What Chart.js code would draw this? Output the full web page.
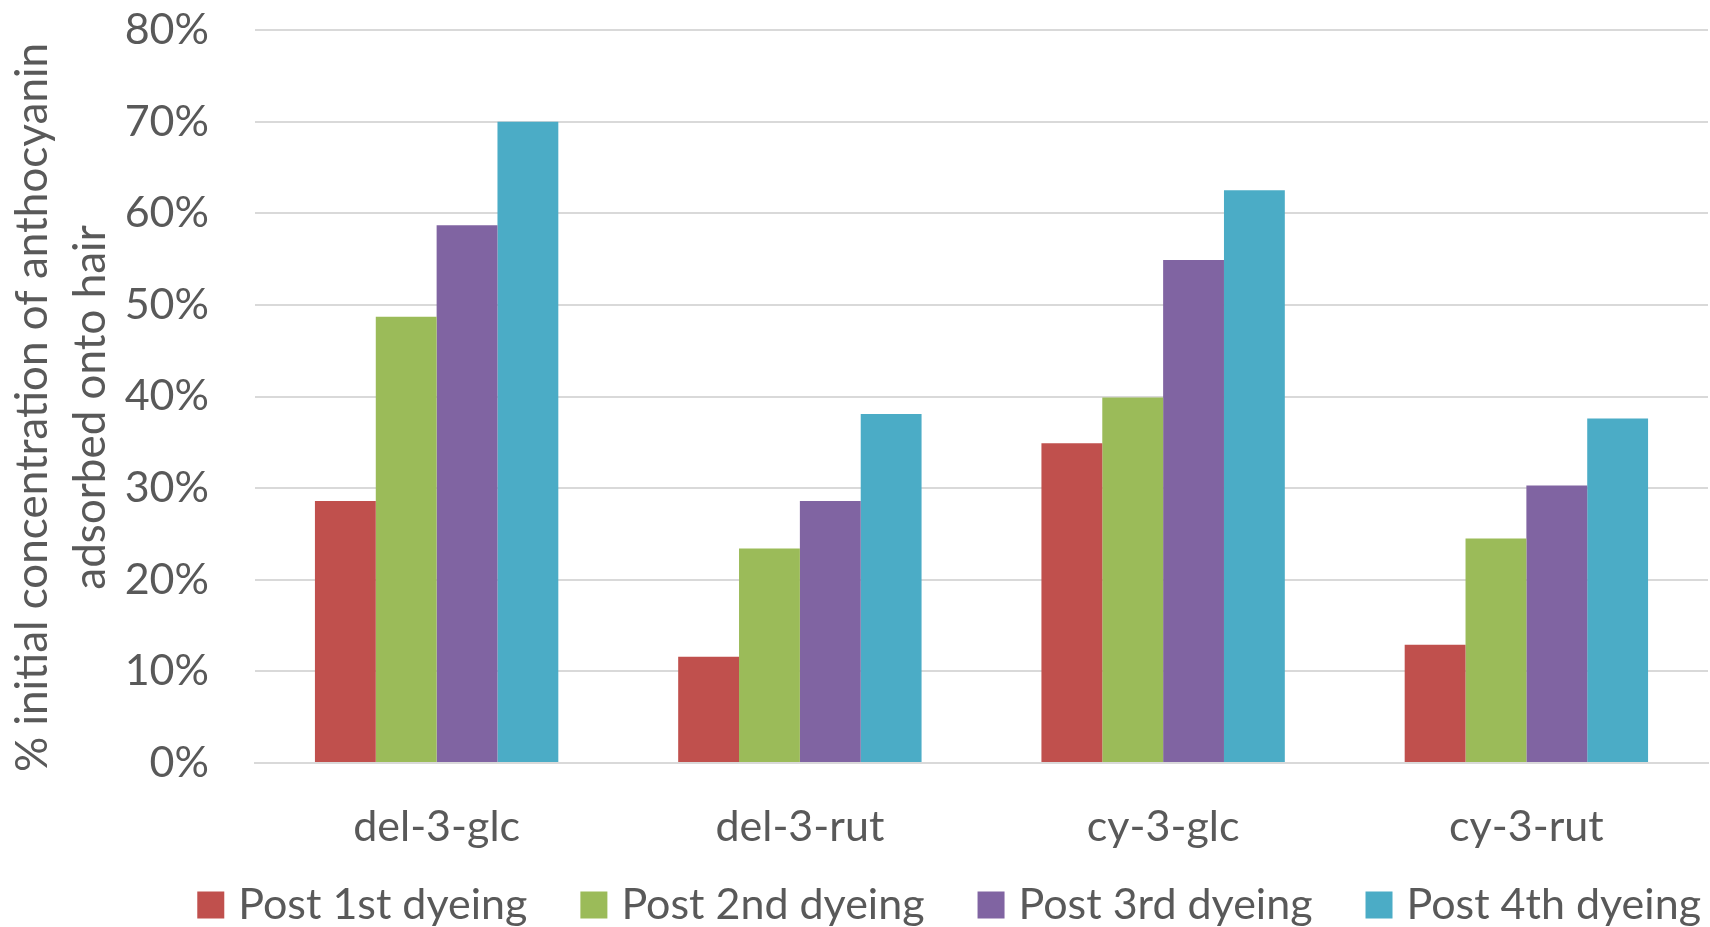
<!DOCTYPE html>
<html>
<head>
<meta charset="utf-8">
<script src="https://cdn.jsdelivr.net/npm/chart.js@4"></script>
<style>
  html, body { margin: 0; padding: 0; background: #ffffff; }
  #wrap { width: 1710px; height: 927px; }
</style>
</head>
<body>
<div id="wrap"><canvas id="chart" width="1710" height="927"></canvas></div>
<script>
// Anthocyanin compounds on the x axis
const categories = ['del-3-glc', 'del-3-rut', 'cy-3-glc', 'cy-3-rut'];

// % of initial concentration adsorbed onto hair after each dyeing
const post1st = [28.6, 11.6, 34.9, 12.9];
const post2nd = [48.7, 23.4, 39.9, 24.5];
const post3rd = [58.7, 28.6, 54.9, 30.3];
const post4th = [70.0, 38.1, 62.5, 37.6];

const seriesNames = ['Post 1st dyeing', 'Post 2nd dyeing', 'Post 3rd dyeing', 'Post 4th dyeing'];
const seriesColors = ['#C0504D', '#9BBB59', '#8064A2', '#4BACC6'];

const yTitle = ['% initial concentration of anthocyanin', 'adsorbed onto hair'];
const yMin = 0, yMax = 80, yStep = 10;

const FONT = 'Lato, "Open Sans", sans-serif';
const TEXT = '#595959';
const GRID = '#d9d9d9';

// legend row sits low in the canvas, flush towards the right edge
const LEGEND_ROW_TOP = 883.5;
const LEGEND_TEXT_END = 1701;
const LEGEND_GAP = 60.5;
const Y_TITLE_SHIFT = 11;

Chart.defaults.font.family = FONT;
Chart.defaults.color = TEXT;

const values = [post1st, post2nd, post3rd, post4th];

const placement = {
  id: 'placement',
  afterLayout(chart) {
    const lg = chart.legend;
    if (lg) {
      const pad = lg.options.labels.padding;
      const h = lg.bottom - lg.top;
      const w = lg.right - lg.left;
      lg.top = LEGEND_ROW_TOP - pad;
      lg.bottom = lg.top + h;
      lg.right = LEGEND_TEXT_END + pad;
      lg.left = lg.right - w;
    }
    const ys = chart.scales.y;
    if (ys && !ys._shiftedTitle) {
      const orig = ys.drawTitle;
      ys.drawTitle = function () {
        this.ctx.save();
        this.ctx.translate(0, Y_TITLE_SHIFT);
        orig.apply(this, arguments);
        this.ctx.restore();
      };
      ys._shiftedTitle = true;
    }
  }
};

new Chart(document.getElementById('chart'), {
  type: 'bar',
  data: {
    labels: categories,
    datasets: values.map((v, i) => ({
      label: seriesNames[i],
      data: v,
      backgroundColor: seriesColors[i],
      borderWidth: 0,
      categoryPercentage: 0.67,
      barPercentage: 1.0
    }))
  },
  plugins: [placement],
  options: {
    responsive: false,
    animation: false,
    devicePixelRatio: 1,
    // legend box is taller than its visible row, so the bottom edge reaches past the canvas
    layout: { padding: { top: 30, right: 2, bottom: -39.5, left: 0 } },
    plugins: {
      tooltip: { enabled: false },
      legend: {
        position: 'bottom',
        align: 'end',
        labels: {
          font: { size: 43 },
          color: TEXT,
          usePointStyle: true,
          pointStyle: 'rect',
          boxWidth: 12,
          boxHeight: 27,
          padding: LEGEND_GAP
        }
      }
    },
    scales: {
      x: {
        grid: { display: false, drawTicks: false },
        border: { display: true, color: GRID, width: 2 },
        ticks: { font: { size: 43 }, color: TEXT, padding: 38 },
        afterFit(scale) { scale.height = 90; }
      },
      y: {
        min: yMin,
        max: yMax,
        ticks: {
          stepSize: yStep,
          font: { size: 43 },
          color: TEXT,
          padding: 3,
          callback: v => v + '%'
        },
        grid: {
          color: GRID,
          lineWidth: 2,
          drawTicks: true,
          tickLength: 43,
          tickColor: 'rgba(0,0,0,0)'
        },
        border: { display: false },
        title: {
          display: true,
          text: yTitle,
          font: { size: 44, lineHeight: 1.32 },
          color: TEXT,
          padding: { top: 4, bottom: 0 }
        },
        afterFit(scale) { scale.width = 255; }
      }
    }
  }
});
</script>
</body>
</html>
